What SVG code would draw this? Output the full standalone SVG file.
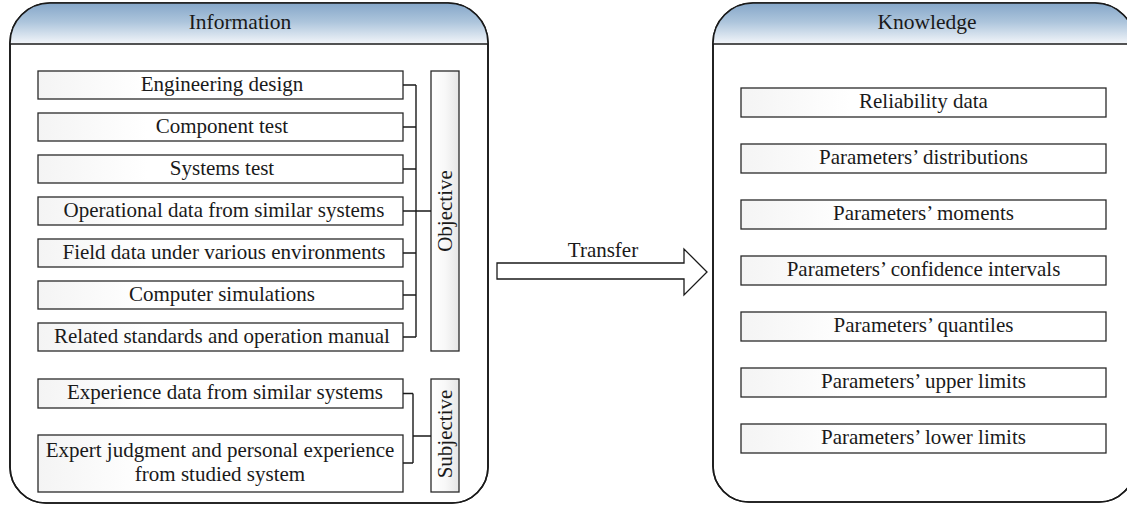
<svg xmlns="http://www.w3.org/2000/svg" width="1127" height="505" viewBox="0 0 1127 505">
<defs>
<linearGradient id="hdr" x1="0" y1="0" x2="0" y2="1">
<stop offset="0" stop-color="#7fa2c6"/>
<stop offset="0.5" stop-color="#adc5dc"/>
<stop offset="1" stop-color="#f3f6fa"/>
</linearGradient>
<linearGradient id="box" x1="0" y1="0" x2="1" y2="0">
<stop offset="0" stop-color="#f4f4f4"/>
<stop offset="0.3" stop-color="#ffffff"/>
<stop offset="1" stop-color="#ffffff"/>
</linearGradient>
<linearGradient id="vbox" x1="0" y1="0" x2="1" y2="0">
<stop offset="0" stop-color="#ffffff"/>
<stop offset="0.5" stop-color="#f8f8f8"/>
<stop offset="1" stop-color="#e6e6e6"/>
</linearGradient>
<clipPath id="cl"><path d="M50,3 H448 A40,40 0 0 1 488,43 V467 A36,36 0 0 1 452,503 H46 A36,36 0 0 1 10,467 V43 A40,40 0 0 1 50,3 Z"/></clipPath>
<clipPath id="cr"><path d="M753,3 H1095 A40,40 0 0 1 1135,43 V466 A36,36 0 0 1 1099,502 H749 A36,36 0 0 1 713,466 V43 A40,40 0 0 1 753,3 Z"/></clipPath>
</defs>
<style>
.panel{fill:#ffffff;stroke:#1a1a1a;stroke-width:1.6}
.outline{fill:none;stroke:#1a1a1a;stroke-width:1.6}
.hline{stroke:#1a1a1a;stroke-width:1.6}
.b{fill:url(#box);stroke:#2a2a2a;stroke-width:1.3}
.vb{fill:url(#vbox);stroke:#2a2a2a;stroke-width:1.3}
text{font-family:"Liberation Serif","Times New Roman",serif;font-size:21px;fill:#1a1a1a;text-anchor:middle}
.h{font-size:21.5px}
.c{fill:none;stroke:#1a1a1a;stroke-width:1.4}
.arrow{fill:#ffffff;stroke:#1a1a1a;stroke-width:1.3}
</style>

<g id="information">
<path class="panel" d="M50,3 H448 A40,40 0 0 1 488,43 V467 A36,36 0 0 1 452,503 H46 A36,36 0 0 1 10,467 V43 A40,40 0 0 1 50,3 Z"/>
<rect x="0" y="0" width="500" height="44" fill="url(#hdr)" clip-path="url(#cl)"/>
<path class="outline" d="M50,3 H448 A40,40 0 0 1 488,43 V467 A36,36 0 0 1 452,503 H46 A36,36 0 0 1 10,467 V43 A40,40 0 0 1 50,3 Z"/>
<line class="hline" x1="10" y1="44" x2="488" y2="44"/>
<text class="h" x="240" y="29">Information</text>
</g>

<g id="knowledge">
<path class="panel" d="M753,3 H1095 A40,40 0 0 1 1135,43 V466 A36,36 0 0 1 1099,502 H749 A36,36 0 0 1 713,466 V43 A40,40 0 0 1 753,3 Z"/>
<rect x="700" y="0" width="440" height="44" fill="url(#hdr)" clip-path="url(#cr)"/>
<path class="outline" d="M753,3 H1095 A40,40 0 0 1 1135,43 V466 A36,36 0 0 1 1099,502 H749 A36,36 0 0 1 713,466 V43 A40,40 0 0 1 753,3 Z"/>
<line class="hline" x1="713" y1="44" x2="1135" y2="44"/>
<text class="h" x="927" y="29">Knowledge</text>
</g>

<g id="n-engineering"><rect class="b" x="38" y="71" width="365" height="28"/><text x="222" y="91">Engineering design</text></g>
<g id="n-component"><rect class="b" x="38" y="113" width="365" height="28"/><text x="222" y="133">Component test</text></g>
<g id="n-systems"><rect class="b" x="38" y="155" width="365" height="28"/><text x="222" y="175">Systems test</text></g>
<g id="n-operational"><rect class="b" x="38" y="197" width="365" height="28"/><text x="224" y="217">Operational data from similar systems</text></g>
<g id="n-field"><rect class="b" x="38" y="239" width="365" height="28"/><text x="224" y="259">Field data under various environments</text></g>
<g id="n-computer"><rect class="b" x="38" y="281" width="365" height="28"/><text x="222" y="301">Computer simulations</text></g>
<g id="n-related"><rect class="b" x="38" y="323" width="365" height="28"/><text x="222" y="343">Related standards and operation manual</text></g>
<g id="n-objective"><rect class="vb" x="431" y="71" width="28" height="280"/><text transform="translate(452,211) rotate(-90)">Objective</text></g>

<g id="n-experience"><rect class="b" x="38" y="379" width="365" height="29"/><text x="225" y="399">Experience data from similar systems</text></g>
<g id="n-expert"><rect class="b" x="38" y="435" width="365" height="57"/><text x="220" y="457">Expert judgment and personal experience</text><text x="220" y="481">from studied system</text></g>
<g id="n-subjective"><rect class="vb" x="431" y="379" width="28" height="113"/><text transform="translate(452,434) rotate(-90)">Subjective</text></g>

<g id="n-reliability"><rect class="b" x="741" y="88" width="365" height="29"/><text x="923.5" y="108">Reliability data</text></g>
<g id="n-distributions"><rect class="b" x="741" y="144" width="365" height="29"/><text x="923.5" y="164">Parameters’ distributions</text></g>
<g id="n-moments"><rect class="b" x="741" y="200" width="365" height="29"/><text x="923.5" y="220">Parameters’ moments</text></g>
<g id="n-confidence"><rect class="b" x="741" y="256" width="365" height="29"/><text x="923.5" y="276">Parameters’ confidence intervals</text></g>
<g id="n-quantiles"><rect class="b" x="741" y="312" width="365" height="29"/><text x="923.5" y="332">Parameters’ quantiles</text></g>
<g id="n-upper"><rect class="b" x="741" y="368" width="365" height="29"/><text x="923.5" y="388">Parameters’ upper limits</text></g>
<g id="n-lower"><rect class="b" x="741" y="424" width="365" height="29"/><text x="923.5" y="444">Parameters’ lower limits</text></g>

<g id="connectors">
<path class="c" d="M403,85 H416 M403,127 H416 M403,169 H416 M403,211 H416 M403,253 H416 M403,295 H416 M403,337 H416 M416,85 V337 M416,211 H431"/>
<path class="c" d="M403,393.5 H413 M403,463 H413 M413,393.5 V463 M413,436 H431"/>
<g id="transfer">
<polygon class="arrow" points="497,263 684,263 684,249 707,272 684,295 684,279 497,279"/>
<text x="603" y="257">Transfer</text>
</g>
</g>
</svg>
